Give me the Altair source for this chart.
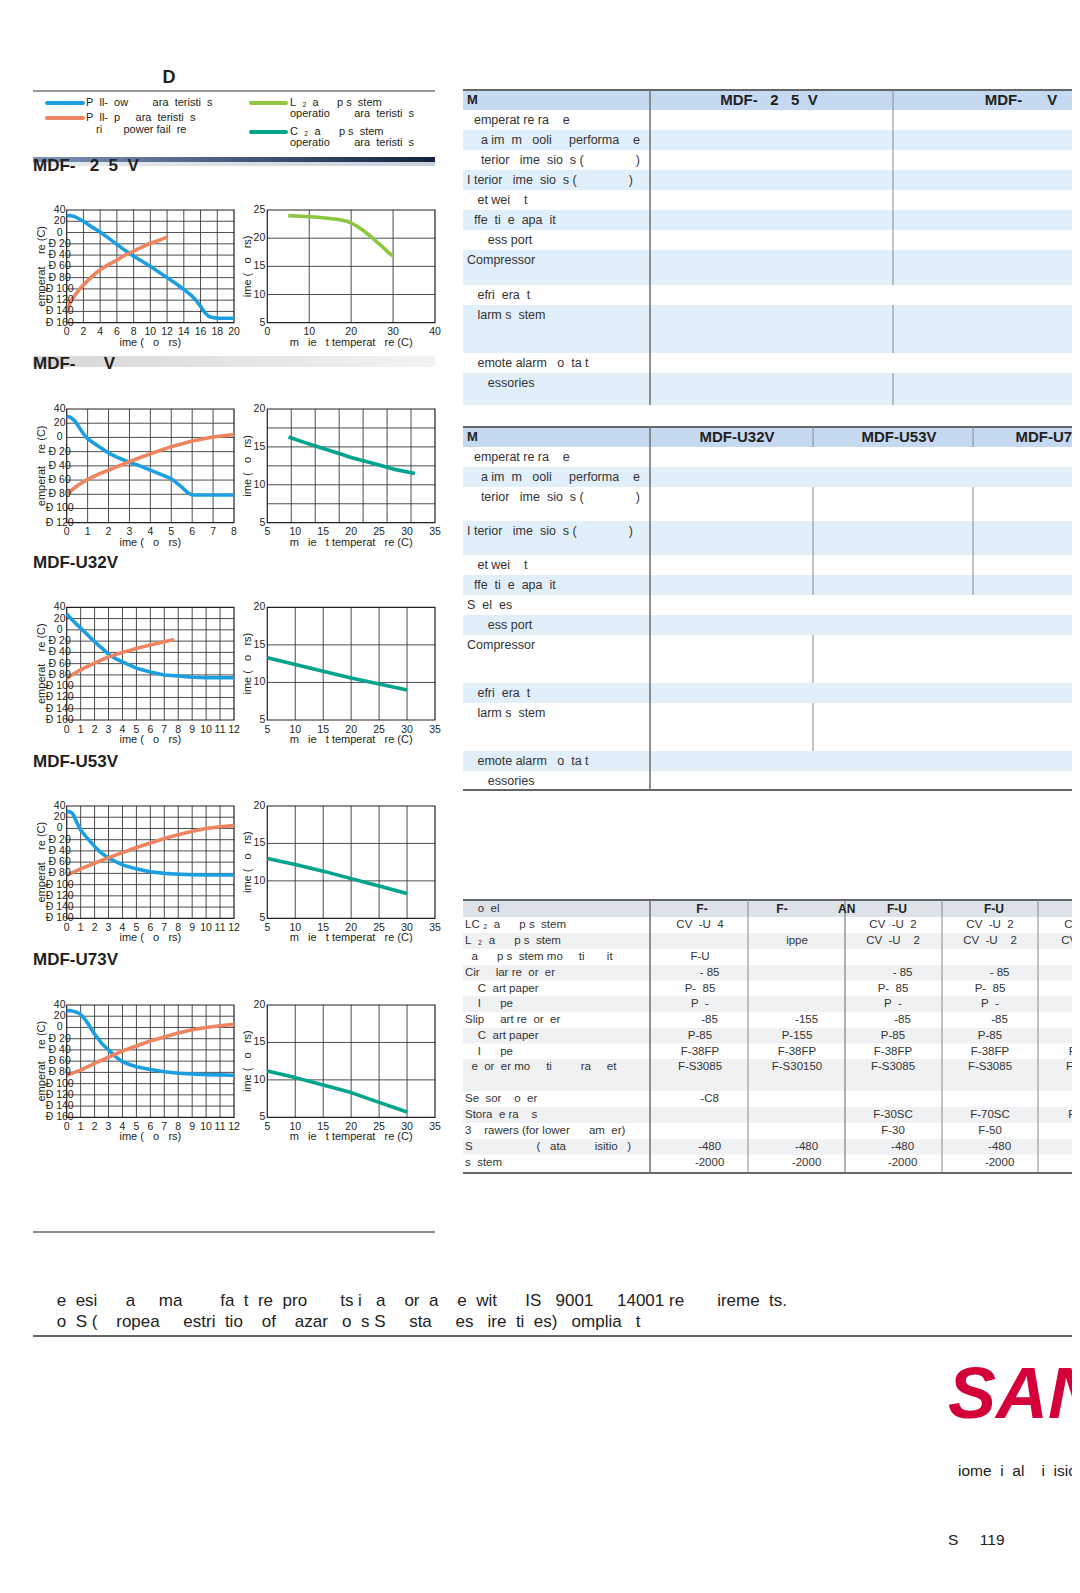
import altair as alt
import pandas as pd

# ---------------------------------------------------------------- data
# Row 1  (MDF- 2 5 V)
r1_down_t = [0, 0.5, 1, 2, 3, 4, 5, 6, 7, 8, 9, 10, 11, 12, 13, 14, 15, 15.5, 16, 16.5, 17, 17.5, 18, 19, 20]
r1_down_v = [30, 30, 28, 20, 10, 1, -10, -21, -32, -42, -51, -60, -70, -80, -90, -101, -113, -121, -131, -142, -149, -151, -152, -152, -152]
r1_up_t = [0, 0.25, 0.5, 1, 1.5, 2, 3, 4, 5, 6, 7, 8, 9, 10, 11, 12]
r1_up_v = [-143, -130, -122, -111, -101, -93, -78, -66, -57, -49, -40, -33, -26, -19, -14, -8]
r1_bk_t = [5, 8, 10, 12, 15, 17, 19, 20, 21, 22, 23, 24, 25, 26, 27, 28, 29, 30]
r1_bk_v = [24.0, 23.9, 23.8, 23.7, 23.5, 23.3, 23.0, 22.7, 22.3, 21.8, 21.3, 20.7, 20.1, 19.4, 18.8, 18.1, 17.4, 16.8]

# Row 2  (MDF-     V)
r2_down_t = [0, 0.2, 0.4, 0.6, 0.8, 1, 1.25, 1.5, 2, 2.5, 3, 3.5, 4, 4.5, 5, 5.5, 5.8, 6, 7, 8]
r2_down_v = [30, 28, 23, 14, 5, -2, -7, -12, -22, -29, -35, -40, -46, -52, -58, -70, -78, -81, -81, -81]
r2_up_t = [0, 0.5, 1, 1.5, 2, 3, 4, 5, 6, 7, 8]
r2_up_v = [-80, -68, -59, -52, -46, -34, -23, -13, -5, 0.5, 4]
r2_bk_t = [8.8, 12, 15, 18, 20, 22, 25, 28, 31.4]
r2_bk_v = [16.3, 15.5, 14.8, 14.1, 13.6, 13.2, 12.6, 12.0, 11.5]

# Row 3  (MDF-U32V)
r3_down_t = [0, 0.5, 1, 1.5, 2, 2.5, 3, 3.5, 4, 5, 6, 7, 8, 9, 10, 11, 12]
r3_down_v = [28, 15, 3, -9, -21, -32, -43, -51, -57, -68, -75, -80, -82, -84, -85, -85, -85]
r3_up_t = [0, 0.5, 1, 1.5, 2, 3, 4, 5, 6, 7, 7.7]
r3_up_v = [-86, -78, -71, -65, -59, -48, -40, -33, -27, -21, -17]
r3_bk_t = [5, 10, 15, 20, 25, 30]
r3_bk_v = [13.3, 12.4, 11.5, 10.6, 9.8, 9.0]

# Row 4  (MDF-U53V)
r4_down_t = [0, 0.2, 0.4, 0.5, 0.7, 1, 1.5, 2, 2.5, 3, 4, 5, 6, 7, 8, 9, 10, 11, 12]
r4_down_v = [30, 30, 27, 23, 12, -3, -18, -32, -44, -53, -65, -72, -77, -80, -81.5, -82.5, -83, -83, -83]
r4_up_t = [0, 1, 2, 3, 4, 5, 6, 7, 8, 9, 10, 11, 12]
r4_up_v = [-83, -72, -62, -52, -43, -34, -26, -18, -11, -5, 0, 3, 5]
r4_bk_t = [5, 10, 15, 20, 25, 30]
r4_bk_v = [13.0, 12.2, 11.3, 10.3, 9.3, 8.3]

# Row 5  (MDF-U73V)
r5_down_t = [0, 0.3, 0.6, 0.9, 1.2, 1.5, 1.8, 2, 2.5, 3, 3.5, 4, 4.5, 5, 6, 7, 8, 9, 10, 11, 12]
r5_down_v = [30, 30, 28, 25, 18, 8, -4, -12, -28, -40, -52, -61, -66, -70, -75, -79, -81.5, -83, -84, -84.5, -85]
r5_up_t = [0, 1, 2, 3, 4, 5, 6, 7, 8, 9, 10, 11, 12]
r5_up_v = [-85, -76, -64, -53, -42, -33, -24, -17, -10, -4, 0, 3, 5.5]
r5_bk_t = [5, 10, 15, 20, 25, 30]
r5_bk_v = [11.2, 10.3, 9.3, 8.3, 7.0, 5.7]

# axis ticks
left_x_ticks = [[0, 2, 4, 6, 8, 10, 12, 14, 16, 18, 20], [0, 1, 2, 3, 4, 5, 6, 7, 8],
                [0, 1, 2, 3, 4, 5, 6, 7, 8, 9, 10, 11, 12]]
left_y_ticks = [[40, 20, 0, -20, -40, -60, -80, -100, -120, -140, -160],
                [40, 20, 0, -20, -40, -60, -80, -100, -120]]
right_x_ticks = [[0, 10, 20, 30, 40], [5, 10, 15, 20, 25, 30, 35]]
right_y_ticks = [[5, 10, 15, 20, 25], [5, 10, 15, 20]]
right_x_grid = [[10, 20, 30], [9.29, 13.57, 17.86, 22.14, 26.43, 30.71], [10, 15, 20, 25, 30]]
right_y_grid = [[10, 15, 20], [7.5, 10, 12.5, 15, 17.5], [10, 15]]

row_titles = ["MDF-   2  5  V", "MDF-      V", "MDF-U32V", "MDF-U53V", "MDF-U73V"]

t1_labels = ["  emperat re ra    e", "    a im  m   ooli     performa    e",
             "    terior   ime  sio  s (               )", "I terior   ime  sio  s (               )",
             "   et wei    t", "  ffe  ti  e  apa  it", "      ess port", "Compressor",
             "   efri  era  t", "   larm s  stem", "   emote alarm   o  ta t", "      essories"]
t2_labels = ["  emperat re ra    e", "    a im  m   ooli     performa    e",
             "    terior   ime  sio  s (               )", "I terior   ime  sio  s (               )",
             "   et wei    t", "  ffe  ti  e  apa  it", "S  el  es", "      ess port", "Compressor",
             "   efri  era  t", "   larm s  stem", "   emote alarm   o  ta t", "      essories"]
t3_labels = ["LC ₂  a      p s  stem", "L  ₂  a      p s  stem", "  a      p s  stem mo     ti       it",
             "Cir     lar re  or  er", "    C  art paper", "    I      pe", "Slip     art re  or  er",
             "    C  art paper", "    I      pe", "  e  or  er mo     ti         ra     et",
             "Se  sor    o  er", "Stora  e ra    s", "3    rawers (for lower      am  er)",
             "S                    (   ata         isitio   )", "s  stem"]
t3_col1 = ["CV  -U  4", "", "F-U", "- 85", "P-  85", "P  -", "-85", "P-85", "F-38FP", "F-S3085", "-C8", "", "", "-480", "-2000"]
t3_col2 = ["", "ippe", "", "", "", "", "-155", "P-155", "F-38FP", "F-S30150", "", "", "", "-480", "-2000"]
t3_col3 = ["CV  -U  2", "CV  -U    2", "", "- 85", "P-  85", "P  -", "-85", "P-85", "F-38FP", "F-S3085", "", "F-30SC", "F-30", "-480", "-2000"]
t3_col4 = ["CV  -U  2", "CV  -U    2", "", "- 85", "P-  85", "P  -", "-85", "P-85", "F-38FP", "F-S3085", "", "F-70SC", "F-50", "-480", "-2000"]
t3_col5 = ["CV  -U  2", "CV  -U    2", "", "", "P-  85", "P  -", "", "", "F-38FP", "F-S3085", "", "F-70SC", "", "", ""]

# ---------------------------------------------------------------- style
BLUE, ORANGE, GREEN, TEAL = "#1c9fe0", "#ef8460", "#8dc63f", "#00a38b"
INK, GRID = "#231f20", "#3a3a3a"
FONT = "Liberation Sans, Arial, Helvetica, sans-serif"
NB = "\u00a0"
SPACE_EM = 0.278
W, H, OFF = 1064, 1577, 8


def sp(s):
    return s.replace(" ", NB)


PX = alt.Scale(domain=[OFF, OFF + W], range=[0, W], nice=False, zero=False)
PY = alt.Scale(domain=[OFF, OFF + H], range=[0, H], nice=False, zero=False)


def pX(f):
    return alt.X(f"{f}:Q", scale=PX, axis=None)


def pY(f):
    return alt.Y(f"{f}:Q", scale=PY, axis=None)


def rects(rows):
    df = pd.DataFrame(rows, columns=["x0", "x1", "y0", "y1", "c"])
    return alt.Chart(df).mark_rect().encode(
        x=pX("x0"), x2="x1", y=pY("y0"), y2="y1", color=alt.Color("c:N", scale=None))


def rules(rows, cap="butt"):
    df = pd.DataFrame(rows, columns=["x0", "x1", "y0", "y1", "c", "w"])
    return alt.Chart(df).mark_rule(strokeCap=cap).encode(
        x=pX("x0"), x2="x1", y=pY("y0"), y2="y1", color=alt.Color("c:N", scale=None),
        strokeWidth=alt.StrokeWidth("w:Q", scale=None))


def texts(rows, align="left", weight="normal", color=INK, font=FONT, style="normal", baseline="middle"):
    out = []
    for x, y, t, s in rows:
        n = len(t) - len(t.lstrip(" "))
        shift = n * SPACE_EM * s * (0.5 if align == "center" else 1.0)
        out.append((x + shift, y, sp(t.strip(" ")), s))
    df = pd.DataFrame(out, columns=["x", "y", "t", "s"])
    return alt.Chart(df).mark_text(align=align, baseline=baseline, fontWeight=weight, color=color,
                                   font=font, fontStyle=style).encode(
        x=pX("x"), y=pY("y"), text="t:N", size=alt.Size("s:Q", scale=None))


def gradient_bar(x0, x1, y0, y1, c0, c1):
    df = pd.DataFrame({"x0": [x0], "x1": [x1], "y0": [y0], "y1": [y1]})
    grad = alt.LinearGradient(gradient="linear", x1=0, x2=1, y1=0, y2=0,
                              stops=[alt.GradientStop(color=c0, offset=0),
                                     alt.GradientStop(color=c1, offset=1)])
    return alt.Chart(df).mark_rect(color=grad).encode(x=pX("x0"), x2="x1", y=pY("y0"), y2="y1")


def fmt(v):
    if v < 0:
        return "Ð " + str(int(abs(v)))
    return str(int(v))


def panel(L, T, R, B, xdom, ydom, xticks, yticks, xgrid, ygrid, series, left_style, xtitle, ytitle, ytoff):
    sx = alt.Scale(domain=xdom, range=[L - OFF, R - OFF], nice=False, zero=False)
    sy = alt.Scale(domain=ydom, range=[B - OFF, T - OFF], nice=False, zero=False)

    def X(f):
        return alt.X(f"{f}:Q", scale=sx, axis=None)

    def Y(f):
        return alt.Y(f"{f}:Q", scale=sy, axis=None)

    box = pd.DataFrame({"x0": [xdom[0]], "x1": [xdom[1]], "y0": [ydom[0]], "y1": [ydom[1]]})
    frame = alt.Chart(box).mark_rect(fill="white").encode(x=X("x0"), x2="x1", y=Y("y0"), y2="y1")
    vg = alt.Chart(pd.DataFrame({"v": xgrid, "lo": ydom[0], "hi": ydom[1]})) \
        .mark_rule(color=GRID, strokeWidth=0.9).encode(x=X("v"), y=Y("lo"), y2="hi")
    hg = alt.Chart(pd.DataFrame({"v": ygrid, "lo": xdom[0], "hi": xdom[1]})) \
        .mark_rule(color=GRID, strokeWidth=0.9).encode(y=Y("v"), x=X("lo"), x2="hi")
    border = alt.Chart(box).mark_rect(fill=None, filled=False, stroke=INK, strokeWidth=1.2) \
        .encode(x=X("x0"), x2="x1", y=Y("y0"), y2="y1")
    lines = [alt.Chart(pd.DataFrame({"t": t, "v": v}))
             .mark_line(color=c, strokeWidth=3.6, strokeJoin="round", strokeCap="butt")
             .encode(x=X("t"), y=Y("v"), order="t:Q") for t, v, c in series]
    xl = alt.Chart(pd.DataFrame({"v": xticks, "a": ydom[0], "t": [fmt(v) for v in xticks]})) \
        .mark_text(font=FONT, fontSize=10.5, dy=9.5, align="center", baseline="middle", color=INK) \
        .encode(x=X("v"), y=Y("a"), text="t:N")
    if left_style:
        yl_mark = dict(align="center", dx=-7)
    else:
        yl_mark = dict(align="right", dx=-2)
    yl = alt.Chart(pd.DataFrame({"v": yticks, "a": xdom[0], "t": [fmt(v) for v in yticks]})) \
        .mark_text(font=FONT, fontSize=10.5, baseline="middle", color=INK, **yl_mark) \
        .encode(x=X("a"), y=Y("v"), text="t:N")
    xt = alt.Chart(pd.DataFrame({"x": [(xdom[0] + xdom[1]) / 2], "a": [ydom[0]], "t": [sp(xtitle)]})) \
        .mark_text(font=FONT, fontSize=11, dy=20, align="center", baseline="middle", color=INK) \
        .encode(x=X("x"), y=Y("a"), text="t:N")
    yt = alt.Chart(pd.DataFrame({"a": [xdom[0]], "y": [(ydom[0] + ydom[1]) / 2], "t": [sp(ytitle)]})) \
        .mark_text(font=FONT, fontSize=11, angle=270, dy=-ytoff, align="center", baseline="middle", color=INK) \
        .encode(x=X("a"), y=Y("y"), text="t:N")
    return alt.layer(frame, vg, hg, border, *lines, xl, yl, xt, yt)


# ---------------------------------------------------------------- page decoration
bg_rects = []
# table 1
bg_rects.append((463, 1080, 90, 110, "#c5d9f1"))
t1_edges = [110, 130, 150, 170, 190, 210, 230, 250, 285, 305, 353, 373, 405]
for i in range(len(t1_labels)):
    if i % 2 == 1:
        bg_rects.append((463, 1080, t1_edges[i], t1_edges[i + 1], "#e1effa"))
# table 2
bg_rects.append((463, 1080, 427, 447, "#c5d9f1"))
t2_edges = [447, 467, 487, 521, 555, 575, 595, 615, 635, 683, 703, 751, 771, 790]
for i in range(len(t2_labels)):
    if i % 2 == 1:
        bg_rects.append((463, 1080, t2_edges[i], t2_edges[i + 1], "#e1effa"))
# table 3
bg_rects.append((463, 1080, 900, 917, "#dde2e8"))
t3_edges = [917, 933, 949, 965, 980.5, 996, 1012, 1028, 1043.5, 1059, 1091, 1107, 1123, 1139, 1154.5, 1173]
for i in range(len(t3_labels)):
    if i % 2 == 1:
        bg_rects.append((463, 1080, t3_edges[i], t3_edges[i + 1], "#f0f1f3"))

line_rows = [
    (33, 435, 91, 91, "#333333", 1.2),
    (463, 1080, 90, 90, "#666666", 2.2), (650, 650, 90, 405, "#777777", 1.6),
    (893, 893, 90, 285, "#888888", 1), (893, 893, 305, 353, "#888888", 1), (893, 893, 373, 405, "#888888", 1),
    (463, 1080, 427, 427, "#666666", 2.2), (463, 1080, 790, 790, "#666666", 2.2),
    (650, 650, 427, 790, "#777777", 1.6),
    (813, 813, 427, 447, "#888888", 1), (813, 813, 487, 595, "#888888", 1),
    (813, 813, 635, 683, "#888888", 1), (813, 813, 703, 751, "#888888", 1),
    (973, 973, 427, 447, "#888888", 1), (973, 973, 487, 595, "#888888", 1),
    (463, 1080, 900, 900, "#666666", 2.2), (463, 1080, 1173, 1173, "#666666", 2.2),
    (650, 650, 900, 1173, "#777777", 1.6),
    (748, 748, 900, 1173, "#888888", 1), (845, 845, 900, 1173, "#888888", 1.3),
    (942, 942, 900, 1173, "#888888", 1), (1038, 1038, 900, 1173, "#888888", 1),
    (33, 435, 1232, 1232, "#666666", 1.5),
    (33, 1080, 1336, 1336, "#666666", 2.2),
]
legend_lines = [
    (47, 83, 103, 103, BLUE, 4), (47, 83, 118, 118, ORANGE, 4),
    (251, 286, 103, 103, GREEN, 4), (251, 286, 132, 132, TEAL, 4),
]

legend_txt = [
    (86, 103, "P  ll-  ow        ara  teristi  s", 11),
    (86, 118, "P  ll-  p     ara  teristi  s", 11),
    (96, 130, "ri       power fail  re", 11),
    (290, 103, "L  ₂  a      p s  stem", 11),
    (290, 114, "operatio        ara  teristi  s", 11),
    (290, 132, "C  ₂  a      p s  stem", 11),
    (290, 143, "operatio        ara  teristi  s", 11),
]
title_y = [166, 364, 563, 762, 960]
title_txt = [(33, y, t, 17) for y, t in zip(title_y, row_titles)]

t1_txt = [(467, t1_edges[i] + 9.5, t, 12.5) for i, t in enumerate(t1_labels)]
t2_txt = [(467, t2_edges[i] + 9.5, t, 12.5) for i, t in enumerate(t2_labels)]
t3_txt = [(465, t3_edges[i] + 8, t, 11.5) for i, t in enumerate(t3_labels)] + [(465, 908.5, "    o  el", 11.5)]
head_left = [(467, 100, "M", 13), (467, 437, "M", 13)]
head_center = [(769, 100, "MDF-   2   5  V", 15), (1021, 100, "MDF-      V", 15),
               (737, 437, "MDF-U32V", 15), (899, 437, "MDF-U53V", 15), (1053, 437, "MDF-U73V", 15),
               (702, 908.5, "F-", 12), (782, 908.5, "F-", 12), (897, 908.5, "F-U", 12),
               (994, 908.5, "F-U", 12), (1088, 908.5, "F-U", 12)]
head_extra = [(838, 908.5, "AN", 12)]
col_x = [700, 797, 893, 990, 1088]
t3_vals = []
for cx, col in zip(col_x, [t3_col1, t3_col2, t3_col3, t3_col4, t3_col5]):
    for i, v in enumerate(col):
        if v:
            s = ("      " + v) if v.startswith("-") else v
            t3_vals.append((cx, t3_edges[i] + 8, s, 11.5))

footer_txt = [
    (52, 1301, " e  esi      a     ma        fa  t  re  pro       ts i   a    or  a    e  wit      IS   9001     14001 re       ireme  ts.", 17),
    (52, 1322, " o  S (    ropea     estri  tio    of    azar   o  s S     sta     es   ire  ti  es)   omplia   t", 17),
    (958, 1471, "iome  i  al    i  isio", 15.5),
    (948, 1540, "S     119", 15.5),
]

deco = alt.layer(
    rects(bg_rects),
    gradient_bar(33, 435, 157, 162, "#7d93b8", "#14223f"),
    gradient_bar(33, 435, 162, 166, "#e9edf2", "#c9d0da"),
    gradient_bar(33, 435, 356, 367, "#d6d6d6", "#f3f3f3"),
    rules(line_rows),
    rules(legend_lines, cap="round"),
    texts(legend_txt),
    texts(title_txt, weight="bold"),
    texts([(169, 78, "D", 18)], align="center", weight="bold"),
    texts(t1_txt + t2_txt + t3_txt, color="#333333"),
    texts(head_left, weight="bold"),
    texts(head_center, align="center", weight="bold"),
    texts(head_extra, weight="bold"),
    texts(t3_vals, align="center", color="#333333"),
    texts(footer_txt, color="#222222"),
    texts([(948, 1418, "SAN", 72)], weight="bold", style="italic", color="#d4003a", baseline="alphabetic"),
)

# ---------------------------------------------------------------- charts
ROW_T = [210, 409, 607.3, 806, 1005]
ROW_B = [322.7, 522.7, 720, 918.3, 1117.3]
LL, LR, RL, RR = 66.7, 234, 267.3, 435

left_cfg = [
    ([0, 20], [-160, 40], left_x_ticks[0], left_y_ticks[0]),
    ([0, 8], [-120, 40], left_x_ticks[1], left_y_ticks[1]),
    ([0, 12], [-160, 40], left_x_ticks[2], left_y_ticks[0]),
    ([0, 12], [-160, 40], left_x_ticks[2], left_y_ticks[0]),
    ([0, 12], [-160, 40], left_x_ticks[2], left_y_ticks[0]),
]
right_cfg = [
    ([0, 40], [5, 25], right_x_ticks[0], right_y_ticks[0], right_x_grid[0], right_y_grid[0]),
    ([5, 35], [5, 20], right_x_ticks[1], right_y_ticks[1], right_x_grid[1], right_y_grid[1]),
    ([5, 35], [5, 20], right_x_ticks[1], right_y_ticks[1], right_x_grid[2], right_y_grid[2]),
    ([5, 35], [5, 20], right_x_ticks[1], right_y_ticks[1], right_x_grid[2], right_y_grid[2]),
    ([5, 35], [5, 20], right_x_ticks[1], right_y_ticks[1], right_x_grid[2], right_y_grid[2]),
]
left_series = [
    [(r1_down_t, r1_down_v, BLUE), (r1_up_t, r1_up_v, ORANGE)],
    [(r2_down_t, r2_down_v, BLUE), (r2_up_t, r2_up_v, ORANGE)],
    [(r3_down_t, r3_down_v, BLUE), (r3_up_t, r3_up_v, ORANGE)],
    [(r4_down_t, r4_down_v, BLUE), (r4_up_t, r4_up_v, ORANGE)],
    [(r5_down_t, r5_down_v, BLUE), (r5_up_t, r5_up_v, ORANGE)],
]
right_series = [
    [(r1_bk_t, r1_bk_v, GREEN)],
    [(r2_bk_t, r2_bk_v, TEAL)],
    [(r3_bk_t, r3_bk_v, TEAL)],
    [(r4_bk_t, r4_bk_v, TEAL)],
    [(r5_bk_t, r5_bk_v, TEAL)],
]

panels = []
for k in range(5):
    xd, yd, xt, yt = left_cfg[k]
    panels.append(panel(LL, ROW_T[k], LR, ROW_B[k], xd, yd, xt, yt, xt[1:-1], yt[1:-1],
                        left_series[k], True, "ime (   o   rs)", "emperat    re (C)", 25))
    xd, yd, xt, yt, xg, yg = right_cfg[k]
    panels.append(panel(RL, ROW_T[k], RR, ROW_B[k], xd, yd, xt, yt, xg, yg,
                        right_series[k], False, "m   ie   t temperat   re (C)", "ime (   o   rs)", 19))

chart = alt.layer(deco, *panels).resolve_scale(x="independent", y="independent").properties(
    width=W, height=H, padding=0, autosize="none", background="white"
).configure_view(stroke=None)

chart.save("out.html", embed_options={"renderer": "svg", "actions": False})
